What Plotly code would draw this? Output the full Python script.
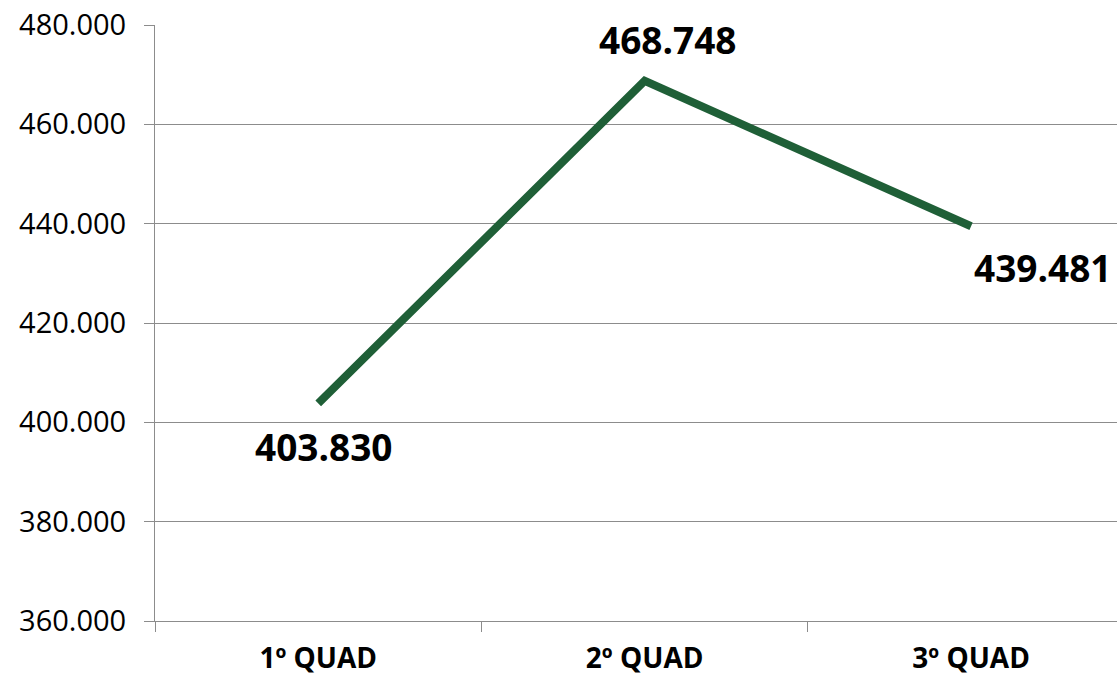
import plotly.graph_objects as go

categories = ["1º QUAD", "2º QUAD", "3º QUAD"]
values = [403830, 468748, 439481]
y_ticks = [360000, 380000, 400000, 420000, 440000, 460000, 480000]

def fmt(v):
    return f"{v:,}".replace(",", ".")

label_shifts = [(6, -43), (23, 41), (72, -41)]

fig = go.Figure()
fig.add_trace(go.Scatter(
    x=categories, y=values, mode="lines",
    line=dict(color="#1f5f37", width=8),
    hoverinfo="skip", showlegend=False,
))

for c, v, (dx, dy) in zip(categories, values, label_shifts):
    fig.add_annotation(
        x=c, y=v, text=fmt(v), showarrow=False,
        xshift=dx, yshift=dy,
        font=dict(family="Open Sans", size=37, color="#000000", weight="bold"),
    )

axis_gray = "#8c8c8c"
fig.update_layout(
    width=1117, height=676,
    margin=dict(l=155, r=0, t=25, b=48),
    paper_bgcolor="white", plot_bgcolor="white",
    separators=",.",
    showlegend=False,
)
fig.update_xaxes(
    type="category", range=[-0.5, 2.447],
    tickson="boundaries", ticks="outside", ticklen=10, tickcolor=axis_gray,
    showline=True, linecolor=axis_gray, linewidth=1,
    showgrid=False, zeroline=False,
    tickfont=dict(family="Open Sans", size=28, color="#000000", weight="bold"),
    ticklabelstandoff=12,
)
fig.update_yaxes(
    range=[360000, 480000], tickvals=y_ticks,
    ticktext=[fmt(t) for t in y_ticks],
    ticks="outside", ticklen=10, tickcolor=axis_gray,
    showline=True, linecolor=axis_gray, linewidth=1,
    showgrid=True, gridcolor=axis_gray, gridwidth=1, zeroline=False,
    tickfont=dict(family="Open Sans", size=29, color="#000000"),
    ticklabelstandoff=12,
)

fig.write_html(
    "out.html",
    config={"displayModeBar": False},
    post_script="document.body.style.margin='0';",
)
